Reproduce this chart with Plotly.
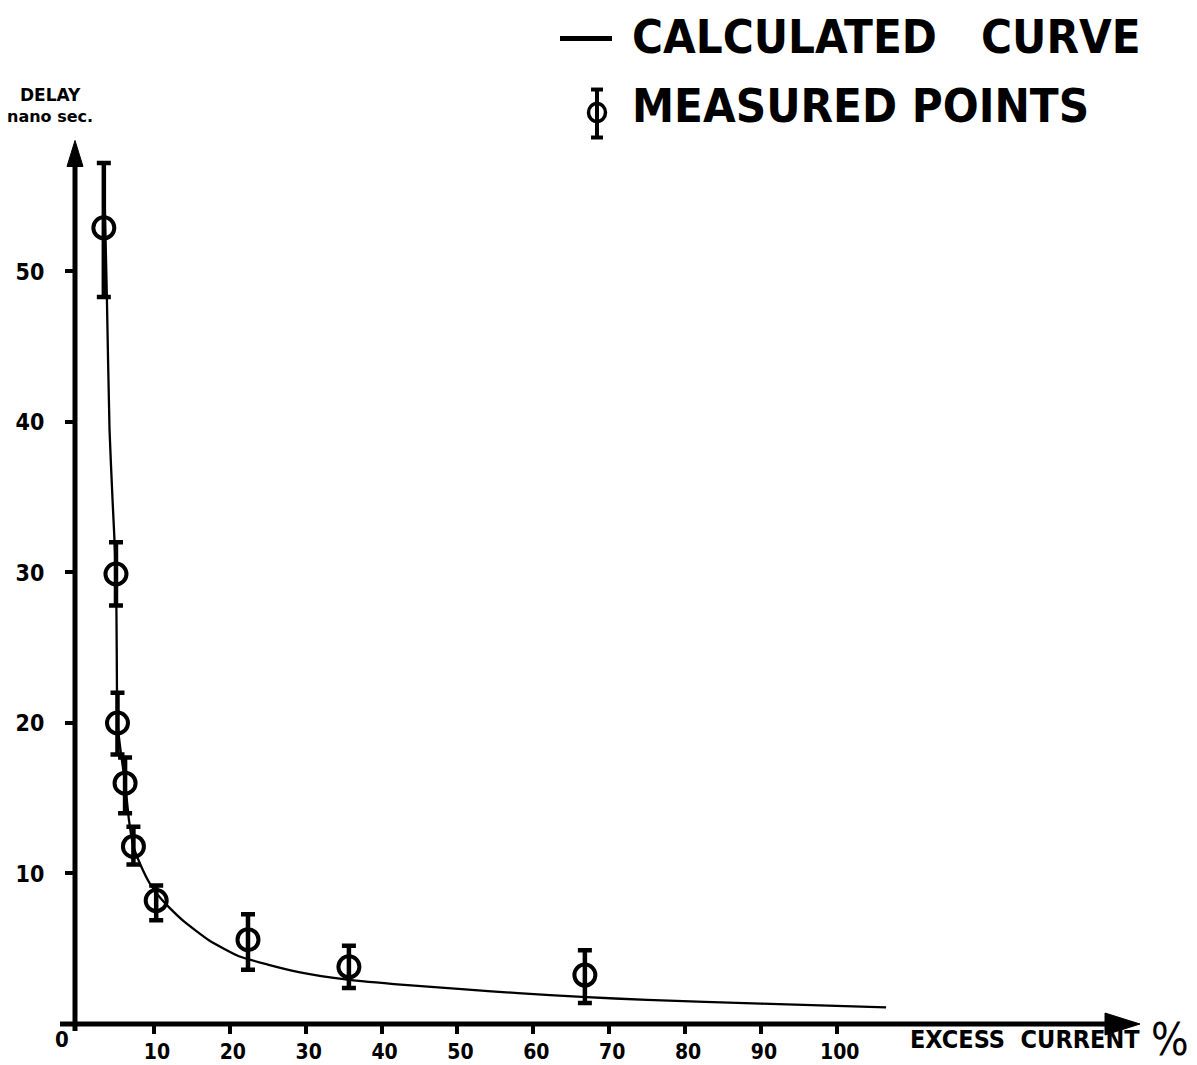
import plotly.graph_objects as go

# Measured delay (ns) versus excess current (%), with the ends of each error bar
excess_pct = [3.4, 5.0, 5.2, 6.2, 7.3, 10.3, 22.4, 35.7, 66.8]
delay_ns = [52.9, 29.9, 20.0, 16.0, 11.8, 8.2, 5.6, 3.8, 3.25]
delay_hi = [57.2, 32.0, 22.0, 17.7, 13.1, 9.2, 7.3, 5.2, 4.9]
delay_lo = [48.3, 27.8, 17.9, 14.0, 10.6, 6.9, 3.6, 2.4, 1.4]

# Calculated curve
calc_pct = [3.4, 3.8, 4.15, 4.55, 5.0, 5.1, 5.2, 5.6, 6.2, 6.7, 7.3, 8.3, 9.5, 10.8,
            12.1, 14.0, 17.3, 21.2, 25.0, 29.1, 35.5, 43.0, 51.0, 58.0, 66.4, 75.0,
            90.0, 106.5]
calc_delay = [57.2, 48.3, 39.5, 34.8, 29.9, 24.8, 20.0, 18.2, 16.0, 13.6, 11.8, 10.5,
              9.3, 8.4, 7.7, 6.8, 5.55, 4.5, 3.95, 3.45, 2.95, 2.6, 2.3, 2.05, 1.8,
              1.6, 1.35, 1.1]

x_ticks = [10, 20, 30, 40, 50, 60, 70, 80, 90, 100]
y_ticks = [10, 20, 30, 40, 50]

# Page geometry (pixels)
W, H = 1197, 1065
LEFT, RIGHT = 75, 1138
TOP, BOTTOM = 141.5, 1024
PW, PH = RIGHT - LEFT, BOTTOM - TOP
X_MIN, X_MAX, Y_MAX = -0.4, 139.7, 58.6

LABEL_FONT = "DejaVu Sans Condensed, DejaVu Sans, sans-serif"


def px(xp):
    return (xp - LEFT) / PW


def py(yp):
    return (BOTTOM - yp) / PH


err_up = [h - v for h, v in zip(delay_hi, delay_ns)]
err_dn = [v - l for v, l in zip(delay_ns, delay_lo)]

fig = go.Figure()

fig.add_trace(go.Scatter(
    x=calc_pct, y=calc_delay, mode="lines",
    line=dict(color="black", width=2.3, shape="spline", smoothing=0.5),
    showlegend=False, cliponaxis=False,
))

fig.add_trace(go.Scatter(
    x=excess_pct, y=delay_ns, mode="markers",
    marker=dict(symbol="circle-open", size=21, color="black", line=dict(width=4)),
    error_y=dict(type="data", symmetric=False, array=err_up, arrayminus=err_dn,
                 color="black", thickness=4.5, width=7),
    showlegend=False, cliponaxis=False,
))

shapes = []
line_k = dict(color="black", width=5)
# axis lines with short stubs past the origin
shapes.append(dict(type="line", xref="paper", yref="paper",
                   x0=px(60), x1=px(1115), y0=py(1024), y1=py(1024), line=line_k))
shapes.append(dict(type="line", xref="paper", yref="paper",
                   x0=px(LEFT), x1=px(LEFT), y0=py(1031), y1=py(160), line=line_k))
# arrowheads
shapes.append(dict(type="path", xref="paper", yref="paper",
                   path=f"M {px(1140)},{py(1024)} L {px(1105)},{py(1013)} "
                        f"L {px(1105)},{py(1035)} Z",
                   fillcolor="black", line=dict(color="black", width=1)))
shapes.append(dict(type="path", xref="paper", yref="paper",
                   path=f"M {px(LEFT)},{py(140)} L {px(LEFT - 8)},{py(166)} "
                        f"L {px(LEFT + 8)},{py(166)} Z",
                   fillcolor="black", line=dict(color="black", width=1)))

# key: dash for the calculated curve
shapes.append(dict(type="line", xref="paper", yref="paper",
                   x0=px(560), x1=px(612), y0=py(38), y1=py(38),
                   line=dict(color="black", width=5)))
# key: circle with error bar for the measured points
gx, gy = 597, 112
shapes.append(dict(type="line", xref="paper", yref="paper",
                   x0=px(gx), x1=px(gx), y0=py(89), y1=py(137),
                   line=dict(color="black", width=4)))
for cap in (89, 137):
    shapes.append(dict(type="line", xref="paper", yref="paper",
                       x0=px(gx - 6), x1=px(gx + 6), y0=py(cap), y1=py(cap),
                       line=dict(color="black", width=4)))
shapes.append(dict(type="circle", xref="paper", yref="paper",
                   x0=px(gx - 8.5), x1=px(gx + 8.5), y0=py(gy - 9), y1=py(gy + 9),
                   line=dict(color="black", width=3.5)))

annotations = [
    dict(text="CALCULATED   CURVE", x=px(630), y=py(36), xanchor="left", yanchor="middle",
         font=dict(family=LABEL_FONT, size=47, color="black", weight="bold")),
    dict(text="MEASURED POINTS", x=px(630), y=py(105), xanchor="left", yanchor="middle",
         font=dict(family=LABEL_FONT, size=47, color="black", weight="bold")),
    dict(text="DELAY", x=px(50), y=py(94), xanchor="center", yanchor="middle",
         font=dict(family="DejaVu Sans", size=17, color="black", weight="bold")),
    dict(text="nano sec.", x=px(50), y=py(116), xanchor="center", yanchor="middle",
         font=dict(family="DejaVu Sans", size=16, color="black", weight="bold")),
    dict(text="EXCESS  CURRENT", x=px(1142), y=py(1040), xanchor="right", yanchor="middle",
         font=dict(family=LABEL_FONT, size=25, color="black", weight="bold")),
    dict(text="%", x=px(1170), y=py(1040), xanchor="center", yanchor="middle",
         font=dict(family=LABEL_FONT, size=44, color="black")),
    dict(text="0", x=px(62), y=py(1040), xanchor="center", yanchor="middle",
         font=dict(family=LABEL_FONT, size=22, color="black", weight="bold")),
]
for a in annotations:
    a.update(xref="paper", yref="paper", showarrow=False)

x_tick_font = dict(family=LABEL_FONT, size=21, color="black", weight="bold")
y_tick_font = dict(family=LABEL_FONT, size=23, color="black", weight="bold")

fig.update_layout(
    width=W, height=H,
    margin=dict(l=LEFT, r=W - RIGHT, t=TOP, b=H - BOTTOM, pad=0, autoexpand=False),
    paper_bgcolor="white", plot_bgcolor="white",
    shapes=shapes, annotations=annotations,
    xaxis=dict(range=[X_MIN, X_MAX], tickvals=x_ticks, ticks="outside", ticklen=9,
               tickwidth=4, tickcolor="black", showgrid=False, zeroline=False,
               showline=False, tickfont=x_tick_font, automargin=False,
               ticklabelstandoff=0, ticklabelshift=3, fixedrange=True),
    yaxis=dict(range=[0, Y_MAX], tickvals=y_ticks, ticks="outside", ticklen=9,
               tickwidth=4, tickcolor="black", showgrid=False, zeroline=False,
               showline=False, tickfont=y_tick_font, ticklabelstandoff=16,
               automargin=False, fixedrange=True),
)

fig.write_html("out.html")
